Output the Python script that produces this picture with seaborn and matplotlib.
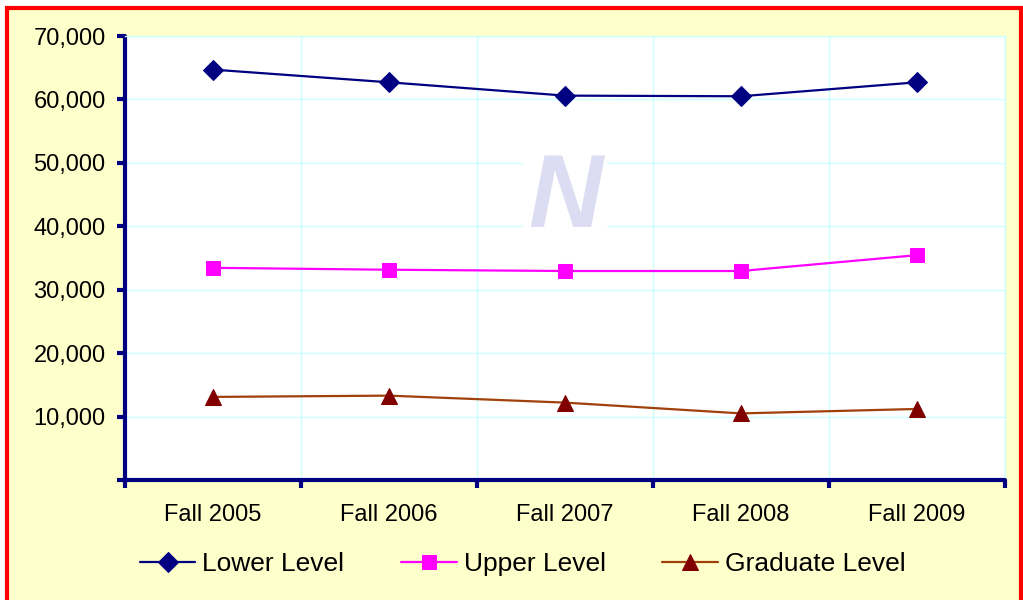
import matplotlib.pyplot as plt
import matplotlib.ticker as mticker
from matplotlib.patches import Rectangle
from matplotlib.lines import Line2D
import pandas as pd
import seaborn as sns

# Data
terms = ['Fall 2005', 'Fall 2006', 'Fall 2007', 'Fall 2008', 'Fall 2009']
lower_level = [64700, 62700, 60600, 60500, 62700]
upper_level = [33450, 33150, 32950, 32950, 35450]
graduate_level = [13100, 13300, 12200, 10500, 11200]

df = pd.DataFrame({'term': terms, 'Lower Level': lower_level,
                   'Upper Level': upper_level, 'Graduate Level': graduate_level})

sns.set_style('white')
plt.rcParams['font.family'] = ['Liberation Sans', 'DejaVu Sans']
plt.rcParams['text.color'] = 'black'

fig = plt.figure(figsize=(10.23, 6), dpi=100, facecolor='white')
# yellow chart area with red frame (left, top, right only)
fig.patches.append(Rectangle((7 / 1023, 0), 1014 / 1023, 1 - 8 / 600,
                             transform=fig.transFigure, facecolor='#FFFFCC',
                             edgecolor='none', zorder=-10))
fig.add_artist(Line2D([7 / 1023, 7 / 1023, 1021 / 1023, 1021 / 1023],
                      [-0.05, 1 - 8 / 600, 1 - 8 / 600, -0.05],
                      transform=fig.transFigure, color='red', linewidth=3,
                      solid_joinstyle='miter', zorder=-9))

ax = fig.add_axes([125 / 1023, 0.2, 880 / 1023, 0.74])
ax.set_facecolor('white')

series = [
    ('Lower Level', '#000080', 'D', '#000080', 10),
    ('Upper Level', '#FF00FF', 's', '#FF00FF', 10.5),
    ('Graduate Level', '#A0400A', '^', '#800000', 12),
]
for name, lc, mk, mc, ms in series:
    sns.lineplot(data=df, x='term', y=name, ax=ax, color=lc, linewidth=1.6,
                 marker=mk, markersize=ms, markerfacecolor=mc, markeredgecolor=mc,
                 label=name, zorder=3)

ax.set_xlim(-0.5, 4.5)
ax.set_ylim(0, 70000)
ax.set_xlabel('')
ax.set_ylabel('')

ax.yaxis.set_major_locator(mticker.MultipleLocator(10000))
ax.yaxis.set_major_formatter(mticker.FuncFormatter(lambda v, p: '' if v == 0 else f'{int(v):,}'))
ax.set_xticks([-0.5, 0.5, 1.5, 2.5, 3.5, 4.5])
ax.set_xticklabels([])
ax.set_xticks(range(len(terms)), minor=True)
ax.set_xticklabels(terms, minor=True)

ax.grid(True, which='major', color='#CCFFFF', linewidth=1, zorder=0)
ax.set_axisbelow(True)
ax.tick_params(axis='both', which='major', direction='out', length=6, width=3,
               color='#000080', labelsize=17, labelcolor='black',
               bottom=True, left=True)
ax.tick_params(axis='x', which='minor', length=0, labelsize=17, pad=17,
               bottom=True, labelcolor='black')
ax.tick_params(axis='y', pad=8)

for side in ['left', 'bottom']:
    ax.spines[side].set_color('#000080')
    ax.spines[side].set_linewidth(3)
    ax.spines[side].set_capstyle('round')
for side in ['top', 'right']:
    ax.spines[side].set_color('#CCFFFF')
    ax.spines[side].set_linewidth(1)

# faint watermark logo
ax.text(2.0, 44000, 'N', fontsize=74, fontweight='heavy', style='italic',
        color='#DCDCF2', ha='center', va='center', zorder=1,
        bbox=dict(facecolor='white', edgecolor='none', pad=4))

ax.get_legend().remove()
handles, labels = ax.get_legend_handles_labels()
fig.legend(handles, labels, loc='center', bbox_to_anchor=(0.511, 0.06), ncol=3,
           frameon=False, fontsize=19, handlelength=2.1, handletextpad=0.27,
           columnspacing=2.15, numpoints=1)

fig.savefig('out.png', dpi=100, facecolor=fig.get_facecolor())
